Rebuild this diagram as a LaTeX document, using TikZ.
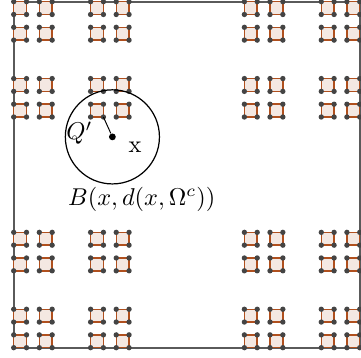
\documentclass[tikz,border=0pt]{standalone}
\usepackage{tikz}
\usetikzlibrary{positioning}
\definecolor{dustfill}{HTML}{F4E8E2}
\definecolor{dustedge}{HTML}{B0501E}
\definecolor{dustdot}{HTML}{444444}
\definecolor{framegray}{HTML}{5A5A5A}

\begin{document}
\begin{tikzpicture}[
  x=0.18519cm, y=0.18519cm,
  frame/.style={draw=framegray,line width=0.8pt},
  cell/.style={draw=dustedge,fill=dustfill,line width=0.6pt},
  ball/.style={draw=black,circle,line width=0.5pt,inner sep=0pt},
  centre/.style={circle,fill=black,inner sep=0pt,minimum size=2.8pt}
]
\useasboundingbox (-1.07,-0.73) rectangle (27.1,27.13);
\clip (-1.07,-0.73) rectangle (27.1,27.13);

\draw[frame] (0,0) rectangle (27,27);

% level 3 squares of the Cantor dust
\foreach \i in {0,2,6,8,18,20,24,26}
  \foreach \j in {0,2,6,8,18,20,24,26} {
    \draw[cell] (\i,\j) rectangle ++(1,1);
    \foreach \a in {0,1}
      \foreach \b in {0,1}
        \fill[dustdot] (\i+\a,\j+\b) circle (1.1pt);
  }

\coordinate (qcorner) at (7,18);
\node[centre] (xpt) at (7.70,16.45) {};
\node[ball,minimum size=1.36cm] (ball) at (xpt) {};
\draw (xpt) -- (qcorner);

\node (qlabel) at (5.12,16.74) {$Q'$};
\node (xlabel) at (9.47,15.64) {x};
\node (blabel) at (9.99,11.56) {$B(x,d(x,\Omega^c))$};
\end{tikzpicture}
\end{document}
